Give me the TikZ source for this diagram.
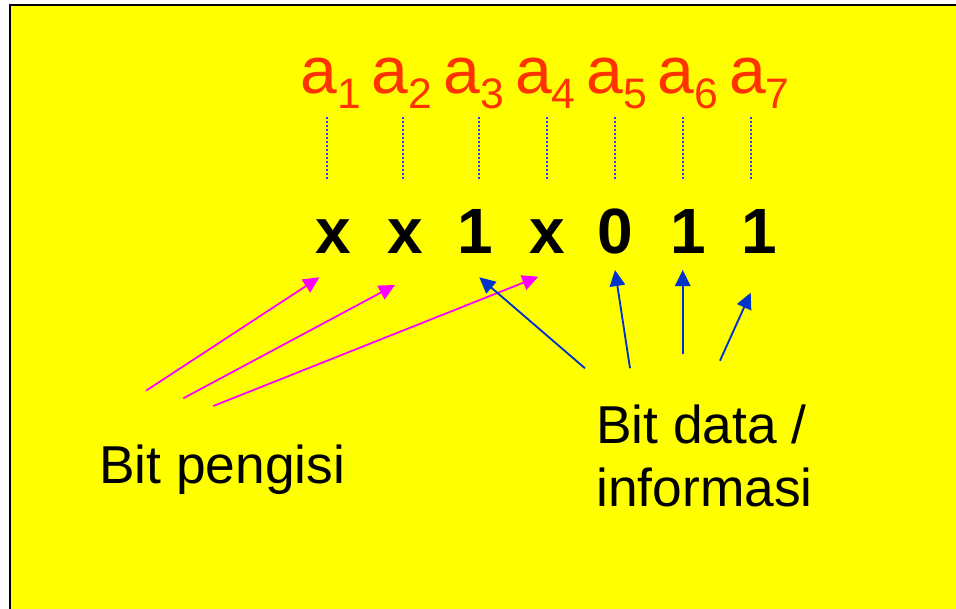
\documentclass[tikz,border=0pt]{standalone}
\usepackage{fontspec}
\setmainfont{Liberation Sans}
\usetikzlibrary{arrows.meta}
\definecolor{slide}{HTML}{FFFF00}
\definecolor{labelred}{HTML}{FF3300}
\definecolor{pinkarrow}{HTML}{FF00FF}
\definecolor{bluearrow}{HTML}{0033CC}
\definecolor{dotblue}{HTML}{2244EE}
\newcommand\possub[1]{\raisebox{-11.25pt}{\fontsize{32pt}{32pt}\selectfont #1}}

\begin{document}
\begin{tikzpicture}[x=0.75pt,y=-0.75pt,
  poslabel/.style={text=labelred, inner sep=0, anchor=base west,
    font=\fontsize{49.5pt}{50pt}\selectfont},
  bitval/.style={inner sep=0, anchor=base,
    font=\bfseries\fontsize{48pt}{50pt}\selectfont},
  caption/.style={inner sep=0, anchor=base west,
    font=\fontsize{40pt}{48pt}\selectfont},
  guide/.style={dotblue, line width=1.3pt, dash pattern=on 1.4pt off 1.6pt},
  filler/.style={pinkarrow, line width=1.3pt,
    -{Triangle[length=12pt,width=11.5pt]}},
  dataarrow/.style={bluearrow, line width=1.4pt,
    -{Triangle[length=12pt,width=11.5pt]}}]

\useasboundingbox (0,0) rectangle (956,608);
\fill[white] (0,0) rectangle (956,608);
\draw[fill=slide, line width=1.2pt] (10,5) rectangle (975,625);

% bit positions a1 ... a7
\node[poslabel] (a1) at (300.5,93) {a\possub{1}};
\node[poslabel] (a2) at (371.5,93) {a\possub{2}};
\node[poslabel] (a3) at (443.5,93) {a\possub{3}};
\node[poslabel] (a4) at (515,93)   {a\possub{4}};
\node[poslabel] (a5) at (586.5,93) {a\possub{5}};
\node[poslabel] (a6) at (657.5,93) {a\possub{6}};
\node[poslabel] (a7) at (729,93)   {a\possub{7}};

% code word
\node[bitval] (b1) at (333,253.3)   {x};
\node[bitval] (b2) at (405,253.3)   {x};
\node[bitval] (b3) at (475.6,253.3) {1};
\node[bitval] (b4) at (547,253.3)   {x};
\node[bitval] (b5) at (615,253.3)   {0};
\node[bitval] (b6) at (688.6,253.3) {1};
\node[bitval] (b7) at (759.6,253.3) {1};

% dotted guides from each position to its bit
\foreach \i/\gx in {1/326.7,2/402.7,3/478.7,4/546.7,5/614.7,6/682.7,7/750.7}{
  \coordinate (g\i t) at (\gx,117);
  \coordinate (g\i b) at (\gx,179);
  \draw[guide] (g\i t) -- (g\i b);
}

% captions
\node[caption] (fill) at (99,483) {Bit pengisi};
\node[caption] (data1) at (596,443) {Bit data /};
\node[caption] (data2) at (596,506.7) {informasi};

% filler-bit arrows
\coordinate (p1s) at (146,390.7);   \coordinate (p1e) at (319.3,277.3);
\coordinate (p2s) at (183.3,398.3); \coordinate (p2e) at (395,285);
\coordinate (p3s) at (213.3,406);   \coordinate (p3e) at (538.3,276.7);
\draw[filler] (p1s) -- (p1e);
\draw[filler] (p2s) -- (p2e);
\draw[filler] (p3s) -- (p3e);

% data-bit arrows
\coordinate (d1s) at (585,368.3);   \coordinate (d1e) at (479.3,277.3);
\coordinate (d2s) at (630,368.3);   \coordinate (d2e) at (615,270);
\coordinate (d3s) at (682.7,354);   \coordinate (d3e) at (682.7,270);
\coordinate (d4s) at (720,360.7);   \coordinate (d4e) at (750.7,292.7);
\draw[dataarrow] (d1s) -- (d1e);
\draw[dataarrow] (d2s) -- (d2e);
\draw[dataarrow] (d3s) -- (d3e);
\draw[dataarrow] (d4s) -- (d4e);
\end{tikzpicture}
\end{document}
